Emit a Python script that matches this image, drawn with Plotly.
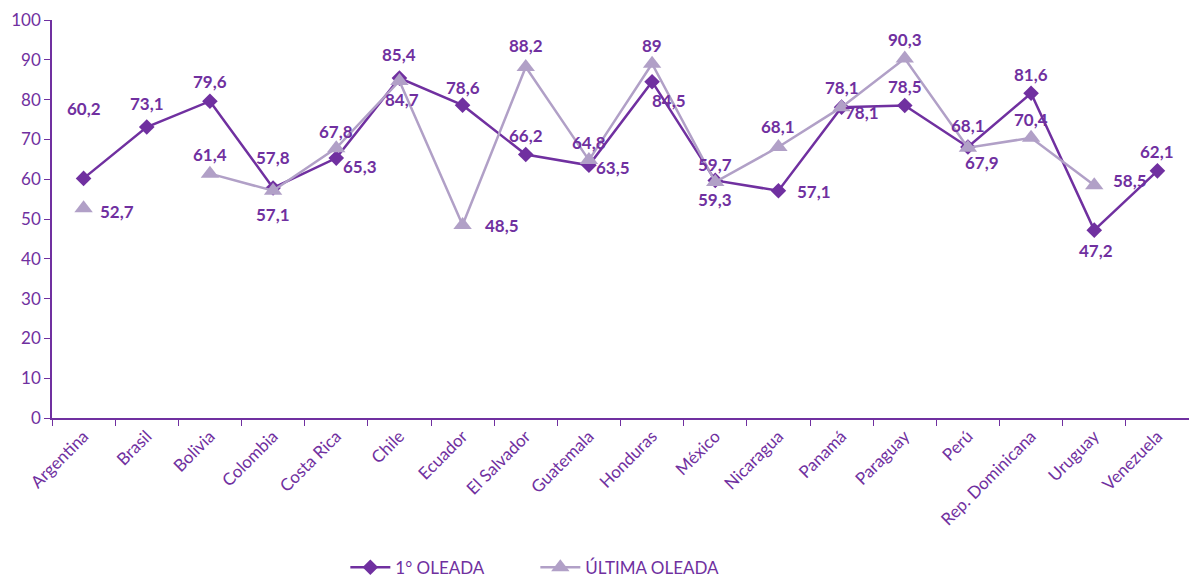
import plotly.graph_objects as go

countries = ["Argentina", "Brasil", "Bolivia", "Colombia", "Costa Rica", "Chile", "Ecuador",
             "El Salvador", "Guatemala", "Honduras", "México", "Nicaragua", "Panamá", "Paraguay",
             "Perú", "Rep. Dominicana", "Uruguay", "Venezuela"]
primera = [60.2, 73.1, 79.6, 57.8, 65.3, 85.4, 78.6, 66.2, 63.5, 84.5, 59.7, 57.1, 78.1, 78.5,
           68.1, 81.6, 47.2, 62.1]
ultima = [52.7, None, 61.4, 57.1, 67.8, 84.7, 48.5, 88.2, 64.8, 89.0, 59.3, 68.1, 78.1, 90.3,
          67.9, 70.4, 58.5, None]

# label offsets in pixels (dx, dy downwards)
off1 = [(0, -70), (0, -24), (0, -20), (0, -30), (24, 8), (0, -24), (0, -18), (0, -19), (24, 2),
        (17, 19), (0, -16), (36, 1), (0, -20), (0, -19), (0, -21), (0, -19), (2, 20), (0, -19)]
off2 = [(33, 3), None, (0, -19), (0, 24), (0, -17), (3, 19), (39, 1), (0, -21), (0, -18),
        (0, -18), (0, 18), (0, -20), (20, 5), (0, -19), (14, 15), (0, -18), (36, -5), None]

DARK = "#7030A0"
LIGHT = "#B1A0C7"

fig = go.Figure()
fig.add_trace(go.Scatter(x=countries, y=primera, mode="lines+markers", name="1° OLEADA",
                         line=dict(color=DARK, width=2.5),
                         marker=dict(symbol="diamond", size=12, color=DARK)))
fig.add_trace(go.Scatter(x=countries, y=ultima, mode="lines+markers", name="ÚLTIMA OLEADA",
                         line=dict(color=LIGHT, width=2.5), connectgaps=False,
                         marker=dict(symbol="triangle-up", size=16, color=LIGHT)))

def fmt(v):
    s = f"{v:.1f}".replace(".", ",")
    if s.endswith(",0"):
        s = s[:-2]
    return s

for series, offs in ((primera, off1), (ultima, off2)):
    for c, v, o in zip(countries, series, offs):
        if v is None or o is None:
            continue
        fig.add_annotation(x=c, y=v, text=fmt(v), showarrow=False,
                           xshift=o[0], yshift=-o[1],
                           font=dict(size=17, color=DARK, family="Lato", weight="bold"))

fig.update_layout(
    width=1189, height=578,
    margin=dict(l=52, r=0, t=20, b=160, autoexpand=False),
    paper_bgcolor="white", plot_bgcolor="white",
    font=dict(family="Lato", color=DARK, size=17),
    showlegend=True,
    legend=dict(orientation="h", x=0.258, xanchor="left", y=-0.376, yanchor="middle",
                font=dict(size=17, color=DARK), itemwidth=40,
                entrywidth=135, entrywidthmode="pixels"),
)
fig.update_xaxes(type="category", tickangle=-45, showline=True, linecolor=DARK, linewidth=1.5,
                 ticks="outside", tickson="boundaries", tickcolor=DARK, ticklen=6,
                 showgrid=False, range=[-0.5, 17.5], tickfont=dict(size=17, color=DARK),
                 automargin=False)
fig.update_yaxes(range=[0, 100], dtick=10, showline=True, linecolor=DARK, linewidth=1.5,
                 ticks="outside", tickcolor=DARK, ticklen=6, showgrid=False, zeroline=False,
                 tickfont=dict(size=17, color=DARK), automargin=False)

fig.write_html("out.html", config={"displayModeBar": False},
               post_script="document.body.style.margin='0';")
